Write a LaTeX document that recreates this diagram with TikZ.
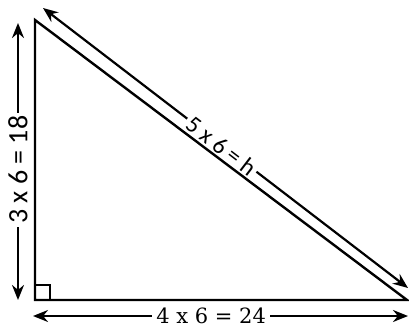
\documentclass[tikz,border=0pt]{standalone}
\usepackage{fontspec}
\setmainfont{Carlito}
\newfontfamily\serifb{DejaVu Serif}
\usetikzlibrary{arrows.meta}
\tikzset{
  edge/.style={line width=2.4pt, line join=miter},
  dim/.style={line width=2.2pt, {Stealth[length=15pt,width=12pt]}-{Stealth[length=15pt,width=12pt]}},
  lbl/.style={fill=white, inner sep=4pt},
}
\begin{document}
\begin{tikzpicture}[x=1pt,y=1pt]
\useasboundingbox (0,0) rectangle (409,335);
\coordinate (A) at (35,315);
\coordinate (B) at (35,35);
\coordinate (C) at (407,35);
% left
\coordinate (L1) at (18,312);
\coordinate (L2) at (18,35);
\draw[dim] (L1) -- (L2) node[lbl, pos=0.53, rotate=90, inner sep=3pt] {\fontsize{28}{28}\selectfont 3 x 6 = 18};
% bottom
\coordinate (D1) at (33,19);
\coordinate (D2) at (408,19);
\draw[dim] (D1) -- (D2) node[lbl, pos=0.475] {\serifb\fontsize{21}{21}\selectfont 4 x 6 = 24};
% hypotenuse
\coordinate (H1) at (43,327);
\coordinate (H2) at (408,47);
\draw[dim] (H1) -- (H2) node[lbl, pos=0.49, sloped, inner sep=3pt, yshift=-1pt] {\fontsize{24}{24}\selectfont 5 x 6 = h};
% triangle on top
\draw[edge] (A) -- (B) -- (C) -- cycle;
\draw[line width=1.8pt] (35,50) -- (50,50) -- (50,35);
\end{tikzpicture}
\end{document}
